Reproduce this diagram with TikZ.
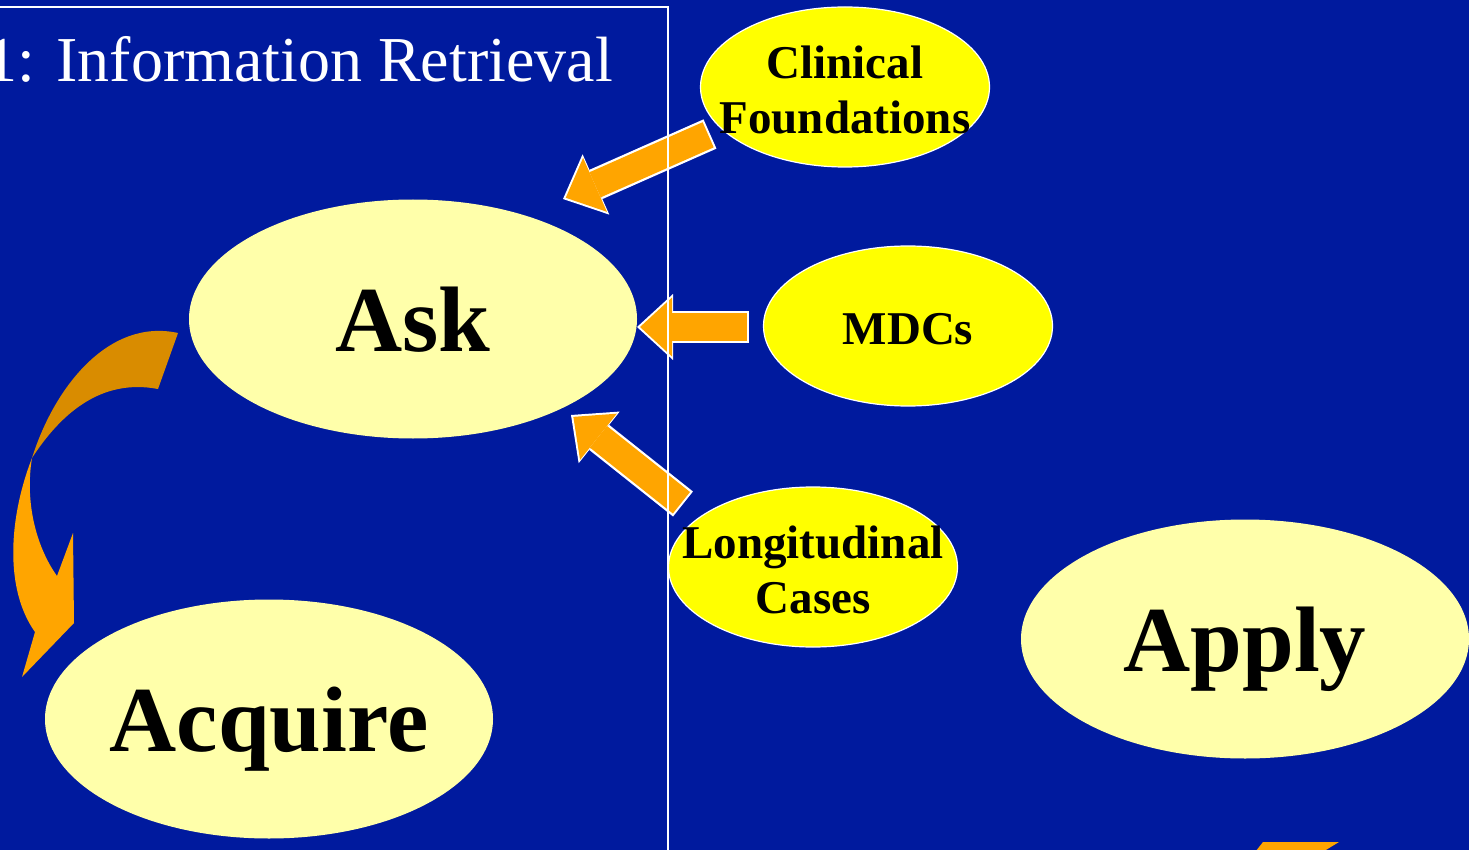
\documentclass[tikz,border=0pt]{standalone}
\usepackage{fontspec}
\setmainfont{Liberation Serif}
\usetikzlibrary{arrows.meta,shapes.geometric,positioning,calc}
\definecolor{slideblue}{RGB}{0,26,158}
\definecolor{paleyellow}{RGB}{255,255,170}
\definecolor{brightyellow}{RGB}{255,255,0}
\definecolor{arroworange}{RGB}{255,165,0}
\definecolor{bendorange}{RGB}{217,140,0}
\tikzset{
  bigbubble/.style={ellipse, fill=paleyellow, inner sep=0pt, minimum width=448pt, minimum height=239pt},
  smallbubble/.style={ellipse, fill=brightyellow, draw=white, line width=1.2pt, inner sep=0pt, minimum width=289pt, minimum height=160pt},
  bigword/.style={font=\fontsize{93}{100}\selectfont\bfseries, text depth=0pt, inner sep=0pt},
  smallword/.style={font=\fontsize{47}{55}\selectfont\bfseries, align=center, inner sep=0pt, yshift=-3pt},
  arrowrim/.style={draw=white, line width=32pt, -{Triangle[length=36pt,width=66pt,line width=0pt]}},
  arrowbody/.style={draw=arroworange, line width=27.5pt, -{Triangle[length=32pt,width=59pt,line width=0pt]}, shorten >=3pt, shorten <=2pt}
}
\newcommand{\blockarrow}[2]{\draw[arrowrim] (#1) -- (#2); \draw[arrowbody] (#1) -- (#2);}
\begin{document}
\begin{tikzpicture}[x=1pt,y=-1pt]
\fill[slideblue] (0,0) rectangle (1469,850);
\useasboundingbox (0,0) rectangle (1469,850);
\node[anchor=base east, text=white, font=\fontsize{64}{70}\selectfont, inner sep=0pt] (title) at (613,82) {1: Information Retrieval};
\node[bigbubble, label={[bigword]center:Ask}] (ask) at (413,319) {};
\node[bigbubble, label={[bigword]center:Acquire}] (acquire) at (269,719) {};
\node[bigbubble, label={[bigword]center:Apply}] (apply) at (1245,639) {};
\node[smallbubble, label={[smallword]center:Clinical\\Foundations}] (clinical) at (845,87) {};
\node[smallbubble, label={[smallword]center:MDCs}] (mdcs) at (908,326) {};
\node[smallbubble, label={[smallword]center:Longitudinal\\Cases}] (longit) at (813,567) {};
\coordinate (bendtop) at (178,333);
\coordinate (bendlow) at (158,389);
\coordinate (bendtwist) at (32,458);
\coordinate (bendtip) at (22,677);
\fill[bendorange] (bendtop) .. controls (110,318) and (55,385) .. (bendtwist) .. controls (60,415) and (100,378) .. (bendlow) -- cycle;
\fill[arroworange] (bendtwist) .. controls (8,520) and (5,590) .. (35,632) -- (bendtip) -- (74,623) -- (73,533) -- (57,576) .. controls (35,545) and (25,500) .. (bendtwist) -- cycle;
\coordinate (cftail) at (710,134);
\coordinate (cftip) at (563,199);
\coordinate (mdtail) at (749,327);
\coordinate (mdtip) at (637,327);
\coordinate (lctail) at (683,504);
\coordinate (lctip) at (571,415);
\blockarrow{cftail}{cftip}
\blockarrow{mdtail}{mdtip}
\blockarrow{lctail}{lctip}
\fill[arroworange] (1263,842) -- (1339,842) -- (1316,856) -- (1252,856) -- cycle;
\draw[white, line width=1.5pt] (-5,7) -- (668,7) -- (668,860);
\end{tikzpicture}
\end{document}
